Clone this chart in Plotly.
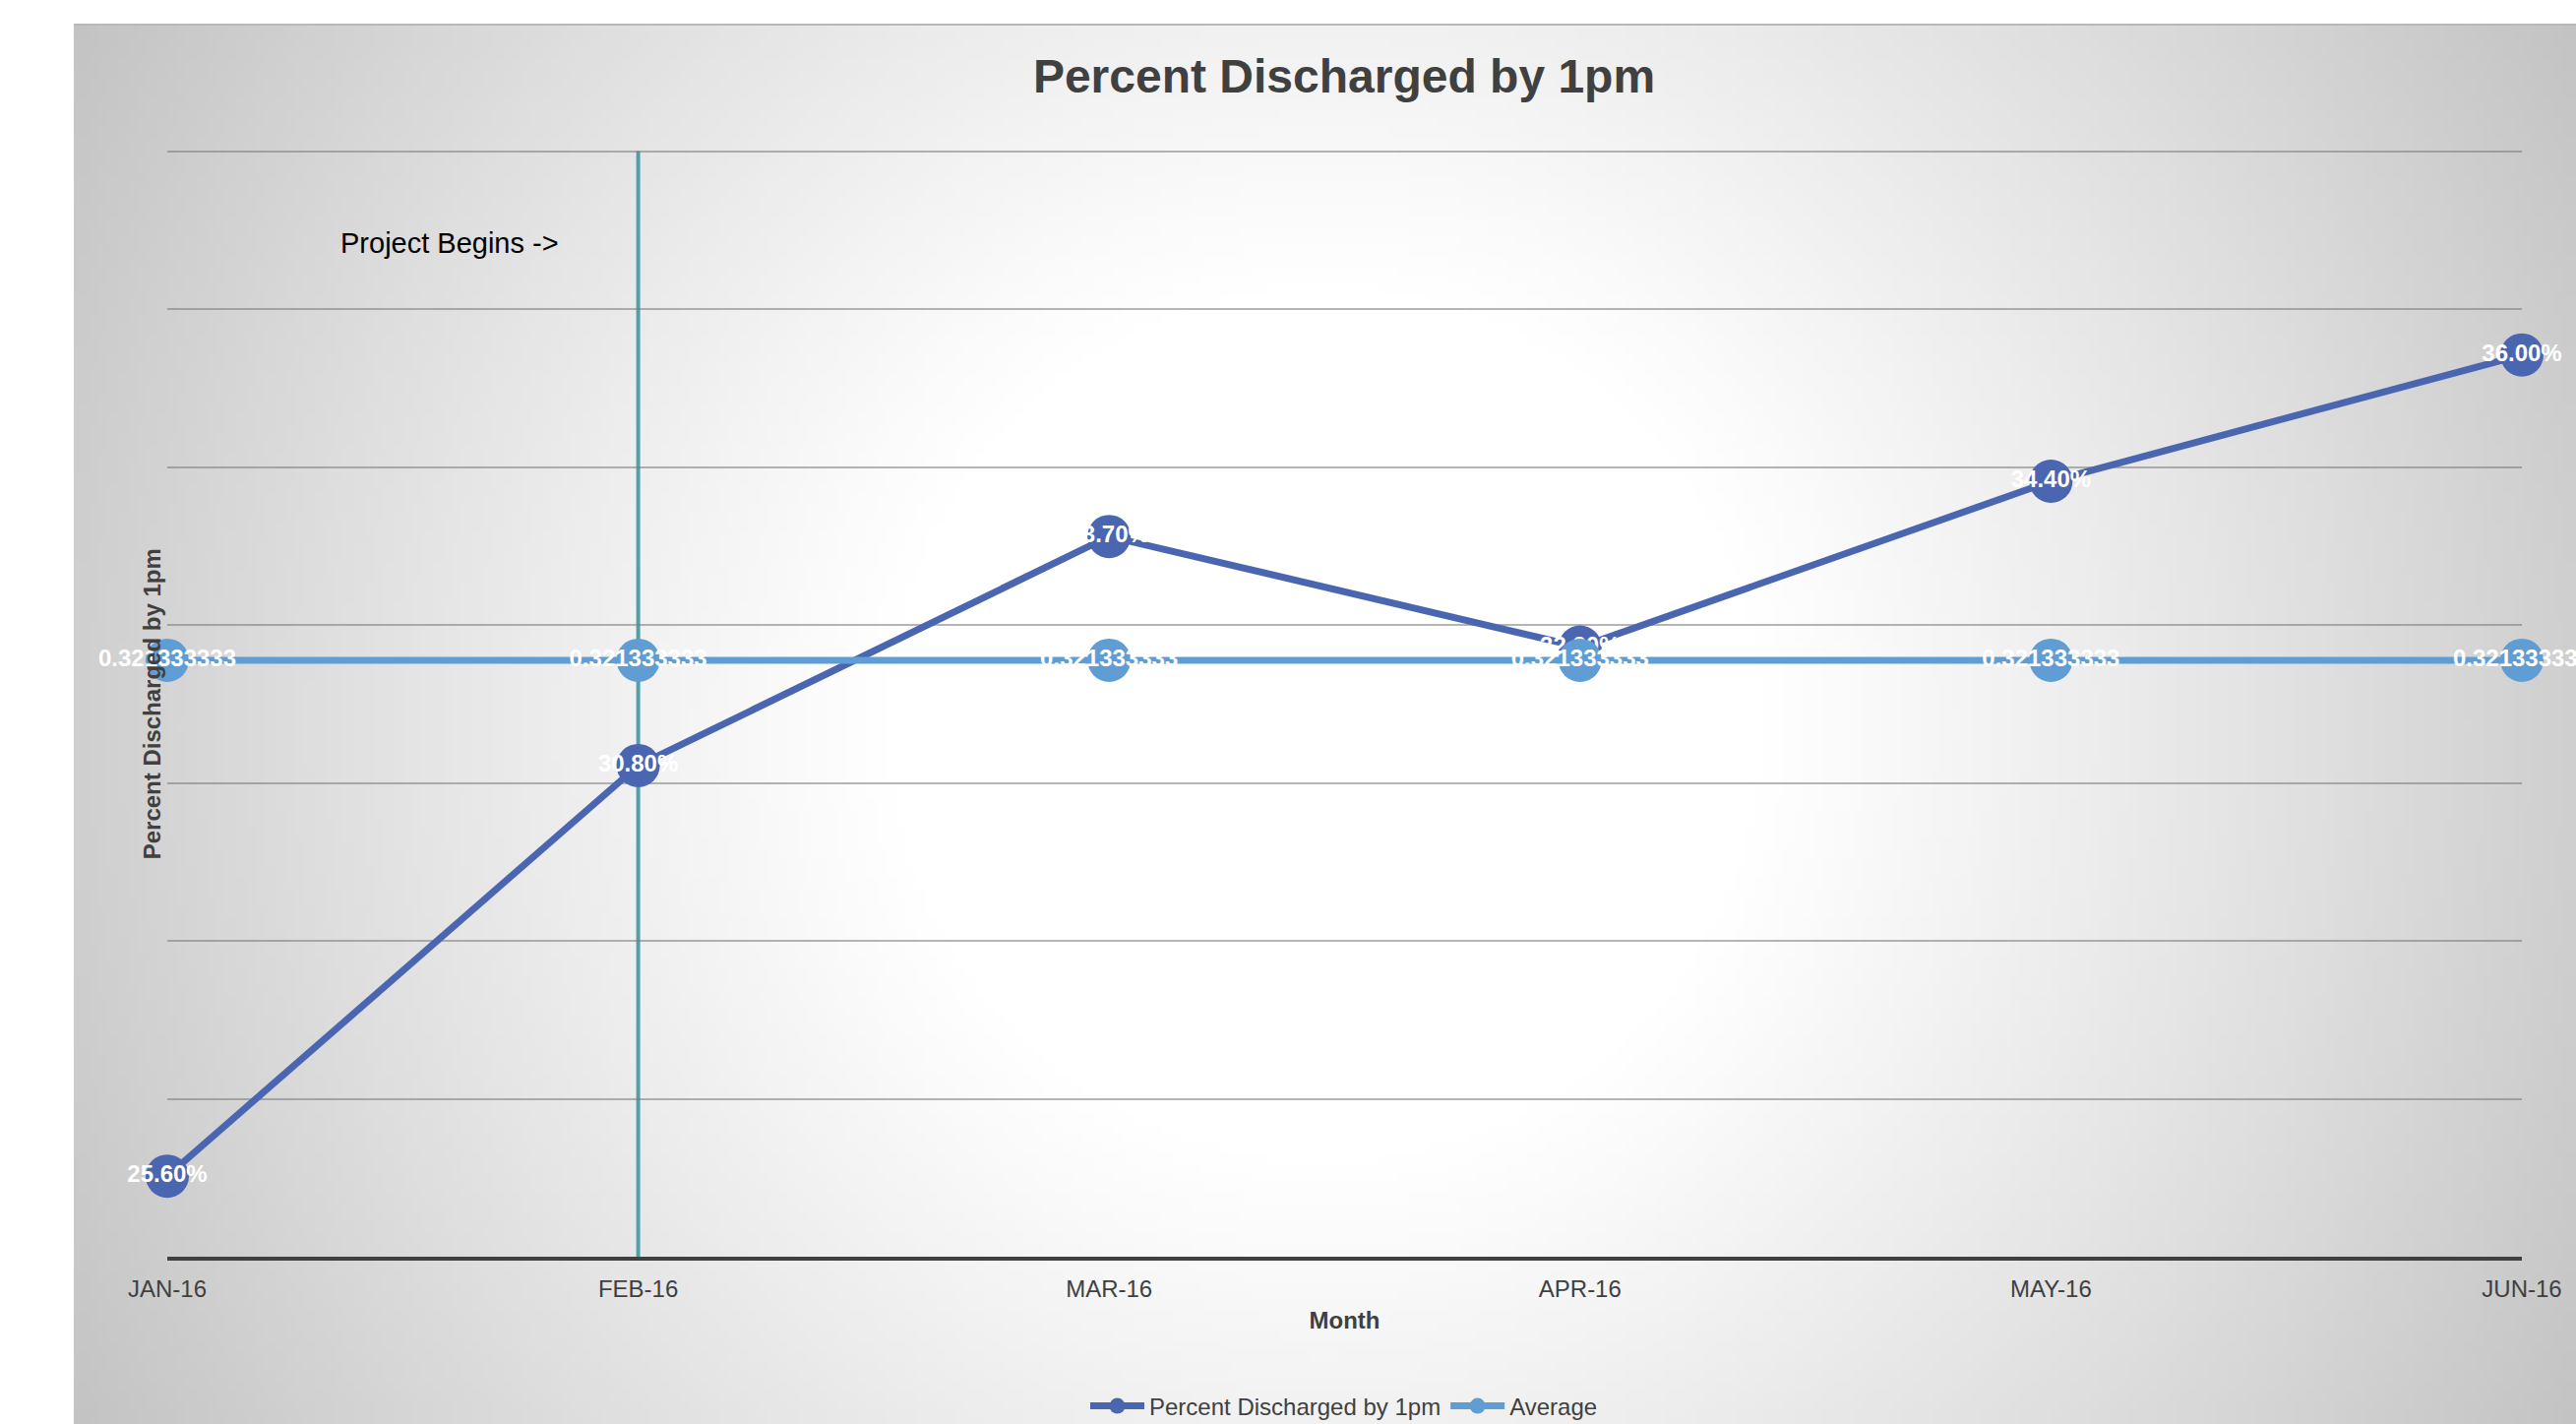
import base64
import struct
import zlib

import numpy as np
import plotly.graph_objects as go

# ---- data -------------------------------------------------------------
months = ["JAN-16", "FEB-16", "MAR-16", "APR-16", "MAY-16", "JUN-16"]
pct_discharged = [0.256, 0.308, 0.337, 0.323, 0.344, 0.360]
average = [0.321333333] * 6
project_start = "FEB-16"
pct_labels = [f"{v:.2%}" for v in pct_discharged]
avg_labels = [f"{v:.9f}" for v in average]

# ---- page geometry (pixels) --------------------------------------------
W, H = 2618, 1447
BG_LEFT, BG_TOP = 75, 25
PLOT_L, PLOT_R = 170, 2563
PLOT_T, PLOT_B = 153.6, 1277

Y_MIN, Y_MAX, Y_STEP = 0.2458, 0.3858, 0.02
Y_TOP = Y_MAX + 0.0004          # a little headroom so the top gridline is kept
PX_PER_UNIT = (PLOT_B - PLOT_T) / (Y_MAX - Y_MIN)
DOMAIN_TOP_PX = PLOT_B - (Y_TOP - Y_MIN) * PX_PER_UNIT

FONT = "Liberation Sans, Arial, Helvetica, sans-serif"
DARK = "#404040"
C_MAIN = "#4a66b0"
C_AVG = "#5f9dd4"
C_PROJECT = "#52a0aa"


def gradient_png(w, h):
    """Radial grey-to-white fill used as the chart-area background."""
    bw, bh = W - BG_LEFT, H - BG_TOP
    xs = (np.arange(w) + 0.5) / w * bw
    ys = (np.arange(h) + 0.5) / h * bh
    X, Y = np.meshgrid(xs, ys)
    cx, cy = bw / 2, bh / 2
    d = np.hypot(X - cx, Y - cy) / np.hypot(cx, cy)
    t = np.clip((d - 0.30) / 0.70, 0, 1) ** 1.1
    g = (255 - 60 * t).round().astype(np.uint8)
    raw = b"".join(b"\x00" + row.tobytes() for row in g)

    def chunk(tag, payload):
        c = struct.pack(">I", len(payload)) + tag + payload
        return c + struct.pack(">I", zlib.crc32(tag + payload) & 0xFFFFFFFF)

    png = (b"\x89PNG\r\n\x1a\n"
           + chunk(b"IHDR", struct.pack(">IIBBBBB", w, h, 8, 0, 0, 0, 0))
           + chunk(b"IDAT", zlib.compress(raw, 9))
           + chunk(b"IEND", b""))
    return "data:image/png;base64," + base64.b64encode(png).decode()


fig = go.Figure()

fig.add_trace(go.Scatter(
    x=months, y=pct_discharged, name="Percent Discharged by 1pm",
    mode="lines+markers+text", text=pct_labels, textposition="middle center",
    textfont=dict(family=FONT, size=24, color="white", weight="bold"),
    line=dict(color=C_MAIN, width=7),
    marker=dict(color=C_MAIN, size=44, line=dict(width=0)),
    cliponaxis=False,
))
fig.add_trace(go.Scatter(
    x=months, y=average, name="Average",
    mode="lines+markers+text", text=avg_labels, textposition="middle center",
    textfont=dict(family=FONT, size=24, color="white", weight="bold"),
    line=dict(color=C_AVG, width=7),
    marker=dict(color=C_AVG, size=44, line=dict(width=0)),
    cliponaxis=False,
))

# vertical marker where the project starts
start_idx = months.index(project_start)
fig.add_shape(type="line", xref="x", yref="y",
              x0=start_idx, x1=start_idx, y0=Y_MIN, y1=Y_MAX,
              line=dict(color=C_PROJECT, width=4), layer="below")
fig.add_annotation(text="Project Begins ->", xref="x", yref="paper",
                   x=start_idx - 0.4, y=1 - 247 / H, showarrow=False,
                   yanchor="middle",
                   font=dict(family=FONT, size=29, color="black"))

# thin border along the top of the chart area
fig.add_shape(type="line", xref="paper", yref="paper",
              x0=BG_LEFT / W, x1=1, y0=1 - BG_TOP / H, y1=1 - BG_TOP / H,
              line=dict(color="#b8b8b8", width=2), layer="below")

# y axis title
fig.add_annotation(text="Percent Discharged by 1pm", textangle=-90,
                   xref="paper", yref="paper", xanchor="center",
                   yanchor="middle",
                   x=154 / W, y=1 - (PLOT_T + PLOT_B) / 2 / H,
                   showarrow=False,
                   font=dict(family=FONT, size=24, color=DARK, weight="bold"))

fig.update_layout(
    width=W, height=H,
    margin=dict(l=0, r=0, t=0, b=0, autoexpand=False),
    paper_bgcolor="white",
    plot_bgcolor="rgba(0,0,0,0)",
    font=dict(family=FONT, color=DARK),
    title=dict(text="Percent Discharged by 1pm", x=1366 / W, y=1 - 77 / H,
               xref="paper", yref="paper", xanchor="center", yanchor="middle",
               font=dict(family=FONT, size=48, color=DARK, weight="bold")),
    xaxis=dict(
        type="category", categoryorder="array", categoryarray=months,
        range=[0, len(months) - 1],
        domain=[PLOT_L / W, PLOT_R / W],
        automargin=False,
        showgrid=False, zeroline=False,
        showline=True, linecolor=DARK, linewidth=4,
        ticks="", ticklabelstandoff=8,
        tickfont=dict(family=FONT, size=24, color=DARK),
        title=dict(text="Month", standoff=12,
                   font=dict(family=FONT, size=24, color=DARK, weight="bold")),
        fixedrange=True,
    ),
    yaxis=dict(
        range=[Y_MIN, Y_TOP],
        domain=[1 - PLOT_B / H, 1 - DOMAIN_TOP_PX / H],
        automargin=False,
        tick0=Y_MIN, dtick=Y_STEP,
        showticklabels=False, ticks="",
        showgrid=True, gridcolor="rgba(120,120,120,0.55)", gridwidth=2,
        zeroline=False, showline=False,
        fixedrange=True,
    ),
    legend=dict(
        orientation="h", x=1366 / W, xanchor="center",
        y=1 - 1429 / H, yanchor="middle",
        bgcolor="rgba(0,0,0,0)",
        font=dict(family=FONT, size=24, color=DARK),
        itemwidth=55,
    ),
    showlegend=True,
    images=[dict(
        source=gradient_png(254, 142), xref="paper", yref="paper",
        x=BG_LEFT / W, y=1 - BG_TOP / H,
        sizex=1 - BG_LEFT / W, sizey=1 - BG_TOP / H,
        xanchor="left", yanchor="top", sizing="stretch", layer="below",
    )],
)

fig.write_html("out.html")
